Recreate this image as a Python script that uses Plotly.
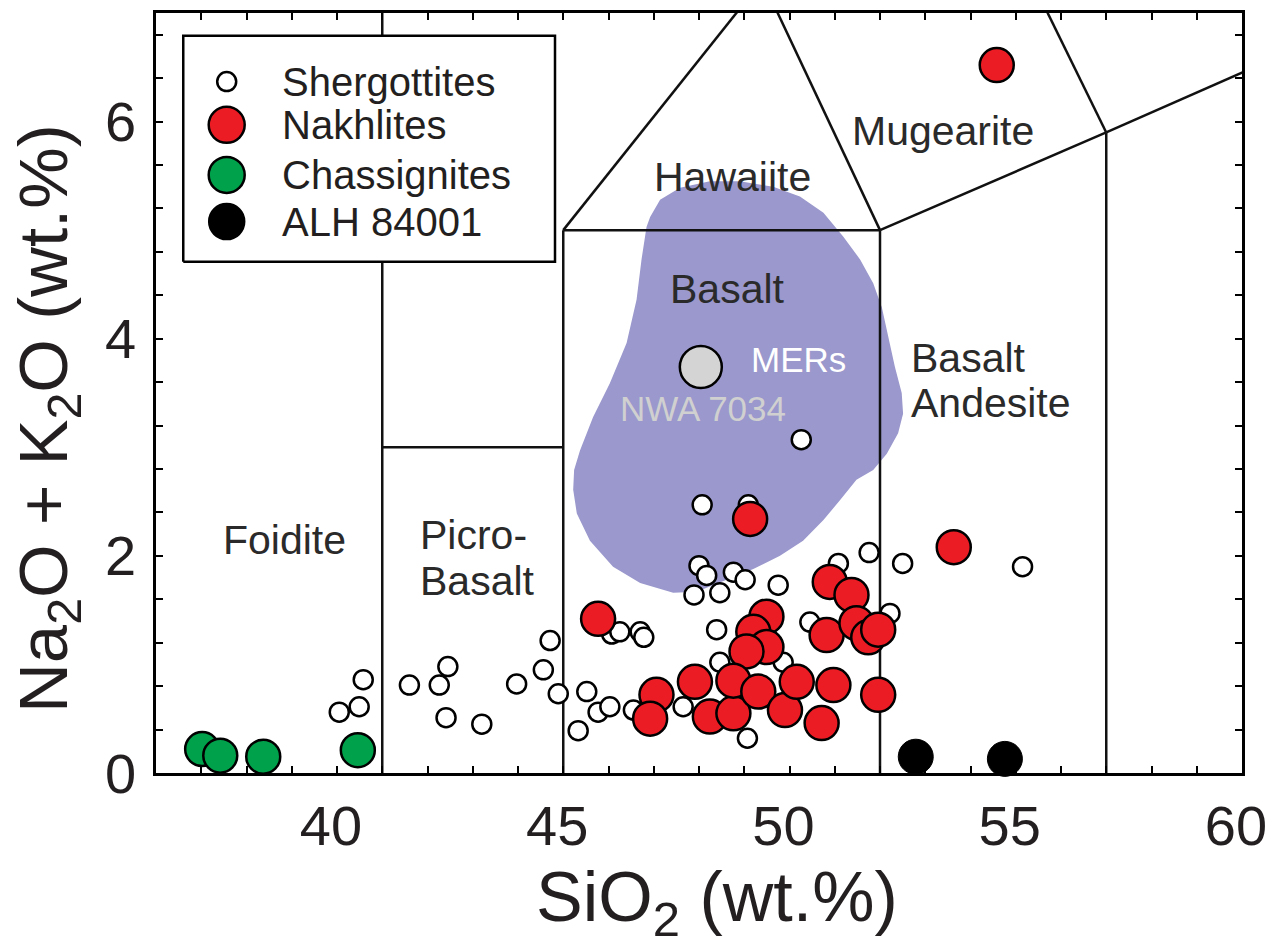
import plotly.graph_objects as go

# ---------------- data ----------------
sherg_x = [40.05, 40.49, 40.58, 41.6, 42.26, 42.45, 42.41, 43.2, 43.97, 44.56, 44.71, 44.89,
           45.33, 45.52, 45.77, 46.03, 46.07, 46.25, 46.7, 46.78, 46.55, 47.65, 47.89, 48.0,
           48.17, 48.46, 48.76, 49.02, 49.75, 48.07, 49.09, 48.39, 48.46, 49.86, 49.07, 50.45,
           51.08, 51.76, 52.5, 52.22, 50.26, 55.15]
sherg_y = [0.56, 0.61, 0.86, 0.81, 0.81, 0.98, 0.51, 0.45, 0.82, 0.95, 1.22, 0.73,
           0.39, 0.75, 0.56, 0.61, 1.28, 1.30, 1.30, 1.25, 0.58, 0.61, 1.64, 1.91,
           1.82, 1.66, 1.85, 1.78, 1.73, 2.47, 2.47, 1.32, 1.02, 1.02, 0.32, 1.39,
           1.93, 2.03, 1.93, 1.47, 3.07, 1.90]

nakh_x = [49.13, 45.77, 50.89, 51.37, 50.82, 51.48, 51.74, 51.96, 49.49, 49.2, 49.49, 49.05,
          47.06, 46.92, 47.91, 48.24, 48.76, 48.76, 49.31, 49.9, 50.16, 50.71, 50.97, 51.96,
          53.63, 54.58]
nakh_y = [2.34, 1.42, 1.76, 1.64, 1.27, 1.38, 1.25, 1.32, 1.44, 1.30, 1.16, 1.12,
          0.72, 0.50, 0.84, 0.52, 0.55, 0.85, 0.75, 0.58, 0.84, 0.46, 0.81, 0.72,
          2.08, 6.52]

chass_x = [37.02, 37.42, 38.37, 40.46]
chass_y = [0.22, 0.16, 0.15, 0.21]

alh_x = [52.79, 54.76]
alh_y = [0.15, 0.13]

nwa_x = [48.04]
nwa_y = [3.74]

# MERs field outline
mers_x = [46.84, 46.92, 47.14, 47.58, 48.24, 48.90, 49.64, 50.23, 50.75, 51.19, 51.56, 51.85,
          52.04, 52.18, 52.33, 52.48, 52.51, 52.40, 52.15, 51.85, 51.48, 51.11, 50.75, 50.30,
          49.79, 49.20, 48.61, 47.95, 47.43, 46.70, 46.10, 45.59, 45.30, 45.22, 45.24, 45.37,
          45.66, 46.03, 46.40, 46.62, 46.73, 46.84]
mers_y = [5.03, 5.12, 5.28, 5.39, 5.45, 5.45, 5.40, 5.31, 5.16, 4.94, 4.73, 4.51,
          4.29, 4.02, 3.74, 3.50, 3.31, 3.13, 2.94, 2.79, 2.70, 2.51, 2.33, 2.14,
          2.00, 1.88, 1.78, 1.67, 1.66, 1.75, 1.90, 2.14, 2.39, 2.61, 2.79, 2.97,
          3.28, 3.59, 3.96, 4.36, 4.73, 5.03]

# TAS field boundaries (segments)
tas_segments = [
    ([41, 41], [0, 7]),
    ([41, 45], [3, 3]),
    ([45, 45], [0, 5]),
    ([45, 52], [5, 5]),
    ([52, 52], [0, 5]),
    ([45, 49.4], [5, 7.3]),
    ([52, 49.4], [5, 7.3]),
    ([52, 57], [5, 5.9]),
    ([57, 57], [0, 5.9]),
    ([57, 53], [5.9, 9.3]),
    ([57, 63], [5.9, 7.0]),
]

# field labels: (text, x, y, anchor)
field_labels = [
    ("Foidite", 38.84, 2.15, "center"),
    ("Picro-", 41.80, 2.19, "left"),
    ("Basalt", 41.80, 1.77, "left"),
    ("Hawaiite", 48.75, 5.49, "center"),
    ("Mugearite", 53.39, 5.91, "center"),
    ("Basalt", 48.64, 4.46, "center"),
    ("Basalt", 52.65, 3.82, "left"),
    ("Andesite", 52.65, 3.41, "left"),
]

x_labeled = [40, 45, 50, 55, 60]
y_labeled = [0, 2, 4, 6]

legend_names = ["Shergottites", "Nakhlites", "Chassignites", "ALH 84001"]

# ---------------- styles ----------------
FONT = "Arial, Liberation Sans, sans-serif"
TXT = "#231f20"
RED = "#ec1c24"
GREEN = "#00a14b"
PURPLE = "#9a98cc"

fig = go.Figure()

# MERs field
fig.add_trace(go.Scatter(x=mers_x, y=mers_y, mode="lines", fill="toself",
                         fillcolor=PURPLE, line=dict(width=0, color=PURPLE),
                         hoverinfo="skip", showlegend=False))

# boundaries
for sx, sy in tas_segments:
    fig.add_trace(go.Scatter(x=sx, y=sy, mode="lines",
                             line=dict(color="#111111", width=2.5),
                             hoverinfo="skip", showlegend=False))

# data
fig.add_trace(go.Scatter(x=sherg_x, y=sherg_y, mode="markers", name="Shergottites",
                         marker=dict(size=19, color="white", line=dict(color="black", width=2.5)),
                         showlegend=False, cliponaxis=False))
fig.add_trace(go.Scatter(x=nwa_x, y=nwa_y, mode="markers", name="NWA 7034",
                         marker=dict(size=42, color="#d4d4d4", line=dict(color="black", width=2.5)),
                         showlegend=False, cliponaxis=False))
fig.add_trace(go.Scatter(x=nakh_x, y=nakh_y, mode="markers", name="Nakhlites",
                         marker=dict(size=34, color=RED, line=dict(color="black", width=2.5)),
                         showlegend=False, cliponaxis=False))
fig.add_trace(go.Scatter(x=chass_x, y=chass_y, mode="markers", name="Chassignites",
                         marker=dict(size=34, color=GREEN, line=dict(color="black", width=2.5)),
                         showlegend=False, cliponaxis=False))
fig.add_trace(go.Scatter(x=alh_x, y=alh_y, mode="markers", name="ALH 84001",
                         marker=dict(size=35, color="black", line=dict(color="black", width=1)),
                         showlegend=False, cliponaxis=False))

# ---------------- custom legend on an overlay [0,1] axis ----------------
box_x0, box_x1, box_y0, box_y1 = 0.0251, 0.3674, 0.6728, 0.970
fig.add_trace(go.Scatter(x=[box_x0, box_x1, box_x1, box_x0, box_x0],
                         y=[box_y0, box_y0, box_y1, box_y1, box_y0],
                         mode="lines", fill="toself", fillcolor="white",
                         line=dict(color="black", width=2.5),
                         xaxis="x2", yaxis="y2", hoverinfo="skip", showlegend=False))
leg_rows = [0.9098, 0.8528, 0.7870, 0.7255]
leg_fill = ["white", RED, GREEN, "black"]
leg_size = [19, 36, 36, 35]
leg_mx = 0.0651
leg_tx = 0.1142
for name, yy, fc, sz in zip(legend_names, leg_rows, leg_fill, leg_size):
    fig.add_trace(go.Scatter(x=[leg_mx], y=[yy], mode="markers",
                             marker=dict(size=sz, color=fc, line=dict(color="black", width=2.5)),
                             xaxis="x2", yaxis="y2", hoverinfo="skip", showlegend=False,
                             cliponaxis=False))

annotations = []
for name, yy in zip(legend_names, leg_rows):
    annotations.append(dict(x=leg_tx, y=yy, xref="x2", yref="y2", text=name, showarrow=False,
                            xanchor="left", yanchor="middle",
                            font=dict(family=FONT, size=40, color=TXT)))

for txt, xx, yy, anc in field_labels:
    annotations.append(dict(x=xx, y=yy, xref="x", yref="y", text=txt, showarrow=False,
                            xanchor=anc, yanchor="middle",
                            font=dict(family=FONT, size=41, color="#2a2a2a")))

annotations.append(dict(x=50.2, y=3.81, xref="x", yref="y", text="MERs", showarrow=False,
                        xanchor="center", yanchor="middle",
                        font=dict(family=FONT, size=35, color="white")))
annotations.append(dict(x=48.09, y=3.36, xref="x", yref="y", text="NWA 7034", showarrow=False,
                        xanchor="center", yanchor="middle",
                        font=dict(family=FONT, size=35, color="#d0d0d0")))

# axis titles
annotations.append(dict(x=0.5166, y=-0.170, xref="paper", yref="paper",
                        text="SiO<sub>2</sub> (wt.%)", showarrow=False,
                        xanchor="center", yanchor="middle",
                        font=dict(family=FONT, size=70, color=TXT)))
annotations.append(dict(x=-0.0995, y=0.467, xref="paper", yref="paper",
                        text="Na<sub>2</sub>O + K<sub>2</sub>O (wt.%)", showarrow=False,
                        textangle=-90, xanchor="center", yanchor="middle",
                        font=dict(family=FONT, size=69, color=TXT)))

axis_common = dict(showline=True, linewidth=2.5, linecolor="black", mirror="ticks",
                   ticks="inside", ticklen=7, tickwidth=2, tickcolor="black",
                   showgrid=False, zeroline=False, ticklabeloverflow="allow",
                   automargin=False,
                   tickfont=dict(family=FONT, size=56, color=TXT))

fig.update_layout(
    width=1270, height=943,
    margin=dict(l=156, r=28, t=13, b=170, autoexpand=False),
    paper_bgcolor="white", plot_bgcolor="white",
    showlegend=False,
    xaxis=dict(range=[36, 60], tickmode="array", tickvals=x_labeled,
               ticktext=[str(v) for v in x_labeled],
               ticklabelstandoff=2, ticklabelshift=-6,
               minor=dict(tick0=36, dtick=1, ticks="inside", ticklen=7, tickwidth=2,
                          tickcolor="black", showgrid=False),
               **axis_common),
    yaxis=dict(range=[0, 7], tickmode="array", tickvals=y_labeled,
               ticktext=[str(v) for v in y_labeled],
               ticklabelstandoff=6,
               minor=dict(tick0=0, dtick=0.4, ticks="inside", ticklen=7, tickwidth=2,
                          tickcolor="black", showgrid=False),
               **axis_common),
    xaxis2=dict(range=[0, 1], overlaying="x", visible=False, anchor="y2"),
    yaxis2=dict(range=[0, 1], overlaying="y", visible=False, anchor="x2"),
    annotations=annotations,
)

fig.write_html("out.html")
